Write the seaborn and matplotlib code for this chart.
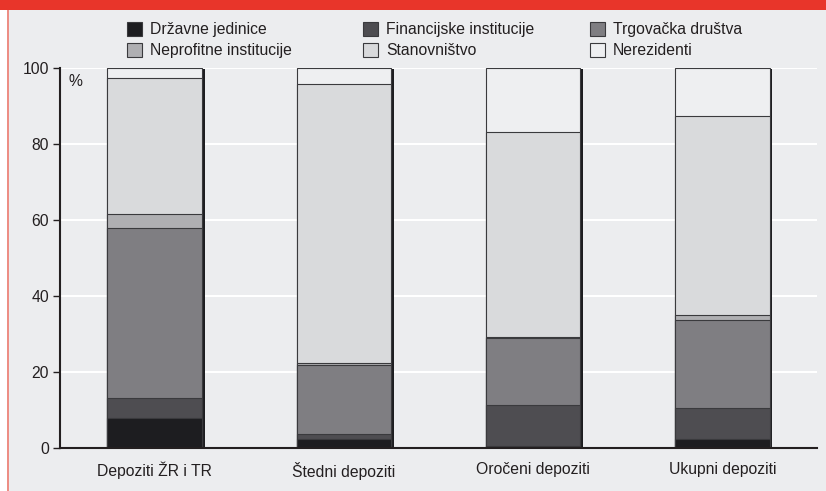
#!/usr/bin/env python3
# Struktura depozita po sektorima - stacked bars (%)

import numpy as np
import matplotlib
matplotlib.use('Agg')
import matplotlib.pyplot as plt
import matplotlib.patheffects as pe
from matplotlib.patches import Patch, Rectangle
from matplotlib.lines import Line2D
import seaborn as sns

# Data (shares in %)
categories = ['Depoziti ŽR i TR', 'Štedni depoziti', 'Oročeni depoziti', 'Ukupni depoziti']
series_names = ['Državne jedinice', 'Financijske institucije', 'Trgovačka društva',
                'Neprofitne institucije', 'Stanovništvo', 'Nerezidenti']
drzavne = [7.8, 2.4, 0.6, 2.4]
financijske = [5.3, 1.2, 10.6, 8.2]
trgovacka = [44.7, 18.2, 17.7, 23.0]
neprofitne = [3.7, 0.7, 0.4, 1.3]
stanovnistvo = [35.8, 73.2, 53.9, 52.5]
nerezidenti = [2.7, 4.3, 16.8, 12.6]
yticks = [0, 20, 40, 60, 80, 100]

colors = ['#1D1D20', '#4E4D51', '#7F7E82', '#AFAFB2', '#D9DADC', '#EEEFF1']
BG = '#ECEDEF'
TXT = '#231F20'
EDGE = '#3A3A3D'
FS = 11.3

sns.set_style('darkgrid', {'axes.facecolor': BG, 'figure.facecolor': BG,
                           'grid.color': 'white'})
plt.rcParams['font.family'] = ['Liberation Sans', 'DejaVu Sans']
plt.rcParams['font.size'] = FS

values = np.array([drzavne, financijske, trgovacka, neprofitne, stanovnistvo, nerezidenti])
cum = np.cumsum(values, axis=0)

fig = plt.figure(figsize=(8.26, 4.91), dpi=100)
fig.patch.set_facecolor(BG)
# white strip left, red line and red banner on top
fig.patches.append(Rectangle((0, 0), 7.5 / 826, 1, transform=fig.transFigure,
                             facecolor='white', edgecolor='none', zorder=0))
fig.add_artist(Line2D([8 / 826, 8 / 826], [0, 1], transform=fig.transFigure,
                      color='#EE7B70', lw=1.2))
fig.patches.append(Rectangle((0, 1 - 10 / 491), 1, 10 / 491, transform=fig.transFigure,
                             facecolor='#E8352A', edgecolor='none', zorder=5))

ax = fig.add_axes([60 / 826, 43 / 491, 757 / 826, 380 / 491])
ax.set_facecolor(BG)

# draw from the top layer down so lower segments overlay
for i in range(len(series_names) - 1, -1, -1):
    n_before = len(ax.patches)
    sns.barplot(x=categories, y=cum[i], color=colors[i], saturation=1, width=0.5,
                errorbar=None, edgecolor=EDGE, linewidth=0.8, ax=ax)
    if i == len(series_names) - 1:
        for p in ax.patches[n_before:]:
            p.set_path_effects([pe.SimplePatchShadow(offset=(2, -1), shadow_rgbFace='#1D1D20',
                                                     alpha=1.0), pe.Normal()])

ax.set_xlim(-0.5, 3.5)
ax.set_ylim(0, 100)
ax.set_yticks(yticks)
ax.set_xlabel('')
ax.set_ylabel('')
ax.set_axisbelow(True)
ax.grid(True, axis='y', color='white', lw=1.5)
ax.grid(False, axis='x')

for s in ['top', 'right']:
    ax.spines[s].set_visible(False)
for s in ['left', 'bottom']:
    ax.spines[s].set_visible(True)
    ax.spines[s].set_color(TXT)
    ax.spines[s].set_linewidth(1.5)

ax.set_xticks([-0.5, 0.5, 1.5, 2.5, 3.5], minor=True)
ax.tick_params(axis='x', which='major', length=0, pad=10, labelsize=FS, colors=TXT)
ax.tick_params(axis='x', which='minor', length=6, width=1, color=TXT, direction='out')
ax.tick_params(axis='y', length=5, width=1, color=TXT, pad=3, labelsize=FS,
               labelcolor=TXT, left=True)
ax.text(0.011, 0.985, '%', transform=ax.transAxes, ha='left', va='top', fontsize=FS, color=TXT)

# legend: three columns, two rows, laid out row by row
handles = [Patch(facecolor=c, edgecolor=EDGE, linewidth=0.8) for c in colors]
col_x = [127, 363, 590]
for k in range(3):
    idx = [k, k + 3]
    fig.legend([handles[j] for j in idx], [series_names[j] for j in idx],
               loc='upper left', bbox_to_anchor=(col_x[k] / 826, 1 - 22 / 491),
               frameon=False, fontsize=FS, handlelength=0.95, handleheight=0.95,
               handletextpad=0.5, labelspacing=0.38, borderpad=0, borderaxespad=0,
               labelcolor=TXT)

plt.savefig('out.png', dpi=100, facecolor=BG)
